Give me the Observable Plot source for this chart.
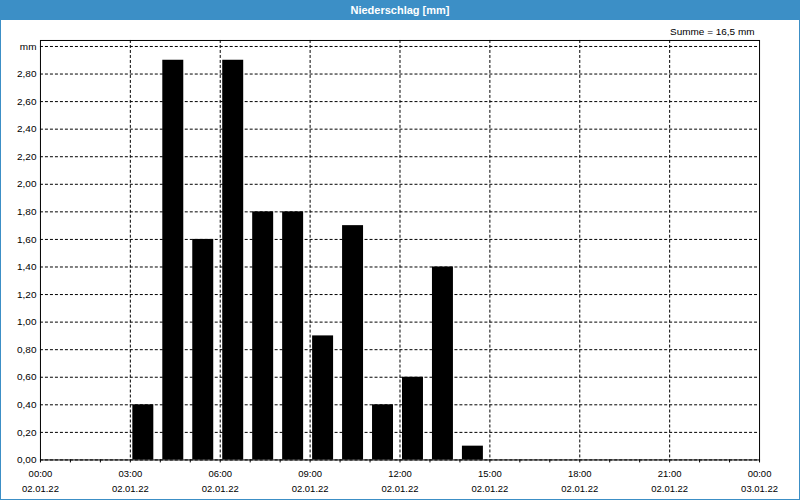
<!DOCTYPE html>
<html>
<head>
<meta charset="utf-8">
<script src="https://cdn.jsdelivr.net/npm/d3@7"></script>
<script src="https://cdn.jsdelivr.net/npm/@observablehq/plot@0.6"></script>
<style>
  html, body { margin: 0; padding: 0; background: #fff; }
  #wrap { position: relative; width: 800px; height: 500px; box-sizing: border-box;
          border: 1px solid #3c8fc6; border-top: none; background: #fff; overflow: hidden;
          font-family: "Liberation Sans", Arial, sans-serif; }
  #title { position: absolute; left: -1px; top: 0; width: 800px; height: 20px; background: #3c8fc6;
           color: #fff; font-weight: bold; font-size: 11px; line-height: 20px; text-align: center; }
  #chart { position: absolute; left: -1px; top: 20px; }
</style>
</head>
<body>
<div id="wrap">
  <div id="title">Niederschlag [mm]</div>
  <div id="chart"></div>
</div>
<script>
// Data: hourly precipitation on 02.01.22 (hour start, mm)
const startHours = [3, 4, 5, 6, 7, 8, 9, 10, 11, 12, 13, 14];
const values = [0.4, 2.9, 1.6, 2.9, 1.8, 1.8, 0.9, 1.7, 0.4, 0.6, 1.4, 0.1];
const yTicks = [0, 0.2, 0.4, 0.6, 0.8, 1.0, 1.2, 1.4, 1.6, 1.8, 2.0, 2.2, 2.4, 2.6, 2.8, 3.0];
const xLabelHours = [0, 3, 6, 9, 12, 15, 18, 21, 24];
const gridHours = [3, 6, 9, 12, 15, 18, 21];
const allHours = d3.range(0, 25);

const base = Date.UTC(2022, 0, 2);
const t = h => new Date(base + h * 3600e3);
const data = startHours.map((h, i) => ({start: t(h), end: t(h + 1), value: values[i]}));
const total = d3.sum(values);
const summe = "Summe = " + total.toFixed(1).replace(".", ",") + " mm";

const fmtY = d => Math.abs(d - 3) < 1e-9 ? "mm" : d.toFixed(2).replace(".", ",");
const fmtX = d3.utcFormat("%H:%M\n%d.%m.%y");

const chart = Plot.plot({
  width: 800,
  height: 480,
  marginLeft: 40,
  marginRight: 40,
  marginTop: 20,
  marginBottom: 40,
  style: {fontFamily: "'Liberation Sans', Arial, sans-serif", fontSize: "10px", color: "#000", background: "transparent"},
  x: {type: "utc", domain: [t(0), t(24)]},
  y: {domain: [0, 3.0435]},
  marks: [
    Plot.ruleY(yTicks, {stroke: "#000", strokeDasharray: "3,2", strokeWidth: 1}),
    Plot.ruleX(gridHours.map(t), {stroke: "#000", strokeDasharray: "3,2", strokeWidth: 1}),
    Plot.rectY(data, {x1: "start", x2: "end", y: "value", fill: "#000", insetLeft: 2.5, insetRight: 6.5}),
    Plot.frame({stroke: "#000", strokeWidth: 1}),
    Plot.axisY({ticks: yTicks, tickFormat: fmtY, tickSize: 0, tickPadding: 4, label: null, fontSize: 10}),
    Plot.axisX({ticks: allHours.map(t), tickSize: 3, text: null, label: null}),
    Plot.axisX({ticks: xLabelHours.map(t), tickFormat: fmtX, tickSize: 0, tickPadding: 7, lineHeight: 1.55, label: null, fontSize: 9.5}),
    Plot.text([summe], {frameAnchor: "top-right", dx: -5, dy: -9, textAnchor: "end", lineAnchor: "middle", fontSize: 10, fill: "#000"})
  ]
});
document.getElementById("chart").appendChild(chart);
</script>
</body>
</html>
